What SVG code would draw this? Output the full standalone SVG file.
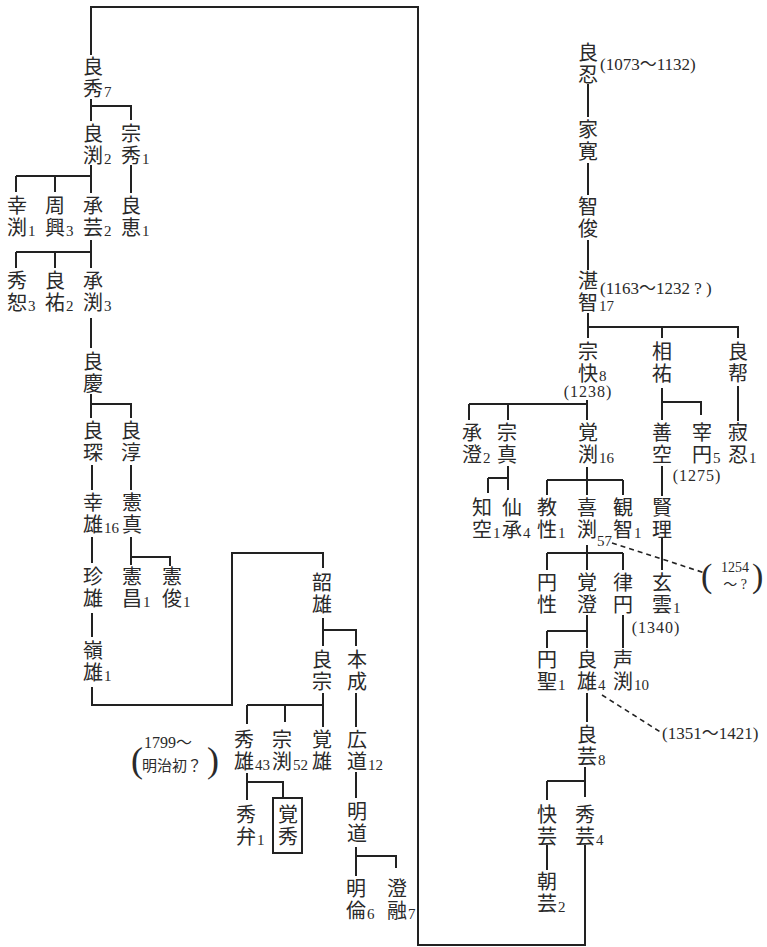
<svg xmlns="http://www.w3.org/2000/svg" width="767" height="947" viewBox="0 0 767 947">
<style>
.k{font-family:"Noto Sans CJK JP","Noto Sans CJK SC",sans-serif;font-size:20px;writing-mode:vertical-rl;text-orientation:upright;letter-spacing:2px;fill:#2a2a2a}
.s{font-family:"Liberation Serif","Noto Sans CJK JP",serif;font-size:15px;fill:#2a2a2a}
.y{font-family:"Liberation Serif","Noto Sans CJK JP",serif;font-size:17px;fill:#2a2a2a}
.ym{font-family:"Liberation Serif","Noto Sans CJK JP",serif;font-size:16px;fill:#2a2a2a;text-anchor:middle}
.p{font-family:"Liberation Serif",serif;font-size:36px;fill:#2a2a2a}
.ln{fill:none;stroke:#222;stroke-width:2}
.ds{fill:none;stroke:#222;stroke-width:1.6;stroke-dasharray:5 4}
</style>
<rect width="767" height="947" fill="#fff"/>
<g id="connectors">
<path class="ln" d="M91,55 V7 H418 V945 H585 V845"/>
<path class="ln" d="M91,99 V121 M91,106 H131 V120"/>
<path class="ln" d="M91,165 V193 M16,176 H91 M16,176 V192 M55,176 V192"/>
<path class="ln" d="M131,165 V193"/>
<path class="ln" d="M91,240 V268 M16,252 H91 M16,252 V268 M55,252 V268"/>
<path class="ln" d="M91,318 V348"/>
<path class="ln" d="M91,394 V418 M91,404 H131 V418"/>
<path class="ln" d="M92,465 V490"/>
<path class="ln" d="M131,465 V490"/>
<path class="ln" d="M92,537 V563"/>
<path class="ln" d="M131,537 V565 M131,557 H170 V566"/>
<path class="ln" d="M92,613 V637"/>
<path class="ln" d="M92,687 V705 H232 V553 H323 V568"/>
<path class="ln" d="M323,618 V646 M323,630 H356 V646"/>
<path class="ln" d="M323,693 V727 M247,705 H323 M247,705 V724 M285,705 V722"/>
<path class="ln" d="M356,693 V727"/>
<path class="ln" d="M247,773 V800 M247,782 H283 V798"/>
<path class="ln" d="M356,772 V798"/>
<path class="ln" d="M356,847 V876 M356,856 H396 V868"/>
<path class="ln" d="M588,84 V117"/>
<path class="ln" d="M588,163 V195"/>
<path class="ln" d="M588,240 V270"/>
<path class="ln" d="M588,313 V338 M588,327 H738 V338 M662,327 V338"/>
<path class="ln" d="M469,404 H587 M469,404 V420 M508,404 V420 M587,400 V420"/>
<path class="ln" d="M662,388 V420 M662,402 H701 V415"/>
<path class="ln" d="M738,386 V421"/>
<path class="ln" d="M508,466 V490 M488,478 H508 M488,478 V493"/>
<path class="ln" d="M587,467 V495 M547,480 H623 M547,480 V495 M623,480 V495"/>
<path class="ln" d="M662,466 V496"/>
<path class="ln" d="M587,545 V570 M547,553 H623 M547,553 V570 M623,553 V570"/>
<path class="ln" d="M662,538 V570"/>
<path class="ln" d="M587,615 V648 M547,631 H587 M547,631 V648"/>
<path class="ln" d="M623,615 V648"/>
<path class="ln" d="M587,693 V722"/>
<path class="ln" d="M585,767 V797 M547,781 H585 M547,781 V800"/>
<path class="ln" d="M547,845 V870"/>
<path class="ds" d="M612,543 L705,573"/>
<path class="ds" d="M602,695 L662,733"/>
</g>
<g id="n-ryoshu"><text class="k" x="93" y="56">良秀</text><text class="s" x="104" y="97">7</text></g>
<g id="n-ryoen"><text class="k" x="93" y="123">良渕</text><text class="s" x="104" y="164">2</text></g>
<g id="n-soshu"><text class="k" x="131" y="123">宗秀</text><text class="s" x="142" y="164">1</text></g>
<g id="n-koen"><text class="k" x="17" y="195">幸渕</text><text class="s" x="28" y="236">1</text></g>
<g id="n-shuko"><text class="k" x="55" y="195">周興</text><text class="s" x="66" y="236">3</text></g>
<g id="n-shogei"><text class="k" x="93" y="195">承芸</text><text class="s" x="104" y="236">2</text></g>
<g id="n-ryokei1"><text class="k" x="131" y="195">良恵</text><text class="s" x="142" y="236">1</text></g>
<g id="n-shujo"><text class="k" x="17" y="270">秀恕</text><text class="s" x="28" y="311">3</text></g>
<g id="n-ryoyu"><text class="k" x="55" y="270">良祐</text><text class="s" x="66" y="311">2</text></g>
<g id="n-shoen"><text class="k" x="93" y="270">承渕</text><text class="s" x="104" y="311">3</text></g>
<g id="n-ryokei2"><text class="k" x="93" y="351">良慶</text></g>
<g id="n-ryoshin"><text class="k" x="93" y="420">良琛</text></g>
<g id="n-ryojun"><text class="k" x="131" y="420">良淳</text></g>
<g id="n-koyu"><text class="k" x="93" y="492">幸雄</text><text class="s" x="104" y="533">16</text></g>
<g id="n-kenshin"><text class="k" x="132" y="492">憲真</text></g>
<g id="n-chinyu"><text class="k" x="93" y="566">珍雄</text></g>
<g id="n-kensho"><text class="k" x="132" y="566">憲昌</text><text class="s" x="143" y="607">1</text></g>
<g id="n-kenshun"><text class="k" x="172" y="566">憲俊</text><text class="s" x="183" y="607">1</text></g>
<g id="n-reiyu"><text class="k" x="93" y="640">嶺雄</text><text class="s" x="104" y="681">1</text></g>
<g id="n-shoyu"><text class="k" x="322" y="572">韶雄</text></g>
<g id="n-ryoso"><text class="k" x="322" y="649">良宗</text></g>
<g id="n-honjo"><text class="k" x="357" y="649">本成</text></g>
<g id="n-shuyu"><text class="k" x="244" y="729">秀雄</text><text class="s" x="255" y="770">43</text>
<text class="p" x="131" y="772">(</text><text class="y" x="144" y="748" style="font-size:16px">1799〜</text><text class="y" x="142" y="771" style="font-family:'Noto Sans CJK JP',sans-serif;font-size:15px">明治初？</text><text class="p" x="207" y="772">)</text></g>
<g id="n-soen"><text class="k" x="282" y="729">宗渕</text><text class="s" x="293" y="770">52</text></g>
<g id="n-kakuyu"><text class="k" x="322" y="729">覚雄</text></g>
<g id="n-kodo"><text class="k" x="357" y="729">広道</text><text class="s" x="368" y="770">12</text></g>
<g id="n-shuben"><text class="k" x="246" y="804">秀弁</text><text class="s" x="257" y="845">1</text></g>
<g id="n-kakushu"><rect x="273" y="798" width="29" height="55" fill="none" stroke="#222" stroke-width="2"/><text class="k" x="288" y="804">覚秀</text></g>
<g id="n-meido"><text class="k" x="357" y="801">明道</text></g>
<g id="n-meirin"><text class="k" x="356" y="878">明倫</text><text class="s" x="367" y="919">6</text></g>
<g id="n-choyu"><text class="k" x="397" y="878">澄融</text><text class="s" x="408" y="919">7</text></g>
<g id="n-ryonin"><text class="k" x="588" y="42">良忍</text><text class="y" x="600" y="70">(1073〜1132)</text></g>
<g id="n-kekan"><text class="k" x="588" y="119">家寛</text></g>
<g id="n-chishun"><text class="k" x="588" y="196">智俊</text></g>
<g id="n-tanchi"><text class="k" x="588" y="270">湛智</text><text class="s" x="599" y="311">17</text><text class="y" x="600" y="294">(1163〜1232 ? )</text></g>
<g id="n-sokai"><text class="k" x="588" y="341">宗快</text><text class="s" x="599" y="381">8</text><text class="ym" x="588" y="397" letter-spacing="1">(1238)</text></g>
<g id="n-soyu"><text class="k" x="662" y="341">相祐</text></g>
<g id="n-ryoho"><text class="k" x="738" y="341">良帮</text></g>
<g id="n-shocho"><text class="k" x="472" y="422">承澄</text><text class="s" x="483" y="463">2</text></g>
<g id="n-soshin"><text class="k" x="507" y="422">宗真</text></g>
<g id="n-kakuen"><text class="k" x="588" y="422">覚渕</text><text class="s" x="599" y="463">16</text></g>
<g id="n-zenku"><text class="k" x="662" y="422">善空</text></g>
<g id="n-saien"><text class="k" x="702" y="422">宰円</text><text class="s" x="713" y="463">5</text><text class="ym" x="697" y="481" letter-spacing="1">(1275)</text></g>
<g id="n-jakunin"><text class="k" x="738" y="422">寂忍</text><text class="s" x="749" y="463">1</text></g>
<g id="n-chiku"><text class="k" x="482" y="497">知空</text><text class="s" x="493" y="538">1</text></g>
<g id="n-sensho"><text class="k" x="512" y="497">仙承</text><text class="s" x="523" y="538">4</text></g>
<g id="n-kyosho"><text class="k" x="547" y="497">教性</text><text class="s" x="558" y="538">1</text></g>
<g id="n-kien"><text class="k" x="587" y="497">喜渕</text><text class="s" x="597" y="546">57</text>
<text class="p" x="701" y="587" style="font-size:34px">(</text><text class="y" x="735" y="572" style="font-size:14px;text-anchor:middle">1254</text><text class="y" x="735" y="589" style="font-size:14px;text-anchor:middle">〜 ?</text><text class="p" x="752" y="587" style="font-size:34px">)</text></g>
<g id="n-kanchi"><text class="k" x="623" y="497">観智</text><text class="s" x="634" y="538">1</text></g>
<g id="n-kenri"><text class="k" x="662" y="497">賢理</text></g>
<g id="n-ensho1"><text class="k" x="547" y="572">円性</text></g>
<g id="n-kakucho"><text class="k" x="587" y="572">覚澄</text></g>
<g id="n-ritsuen"><text class="k" x="623" y="572">律円</text></g>
<g id="n-genun"><text class="k" x="662" y="572">玄雲</text><text class="s" x="673" y="613">1</text><text class="ym" x="656" y="633" letter-spacing="1">(1340)</text></g>
<g id="n-ensho2"><text class="k" x="547" y="649">円聖</text><text class="s" x="558" y="690">1</text></g>
<g id="n-ryoyu2"><text class="k" x="587" y="649">良雄</text><text class="s" x="598" y="690">4</text><text class="y" x="662" y="739">(1351〜1421)</text></g>
<g id="n-shoen2"><text class="k" x="623" y="649">声渕</text><text class="s" x="634" y="690">10</text></g>
<g id="n-ryogei"><text class="k" x="587" y="724">良芸</text><text class="s" x="598" y="765">8</text></g>
<g id="n-kaigei"><text class="k" x="547" y="804">快芸</text></g>
<g id="n-shugei"><text class="k" x="585" y="804">秀芸</text><text class="s" x="596" y="845">4</text></g>
<g id="n-chogei"><text class="k" x="547" y="871">朝芸</text><text class="s" x="558" y="912">2</text></g>
</svg>
